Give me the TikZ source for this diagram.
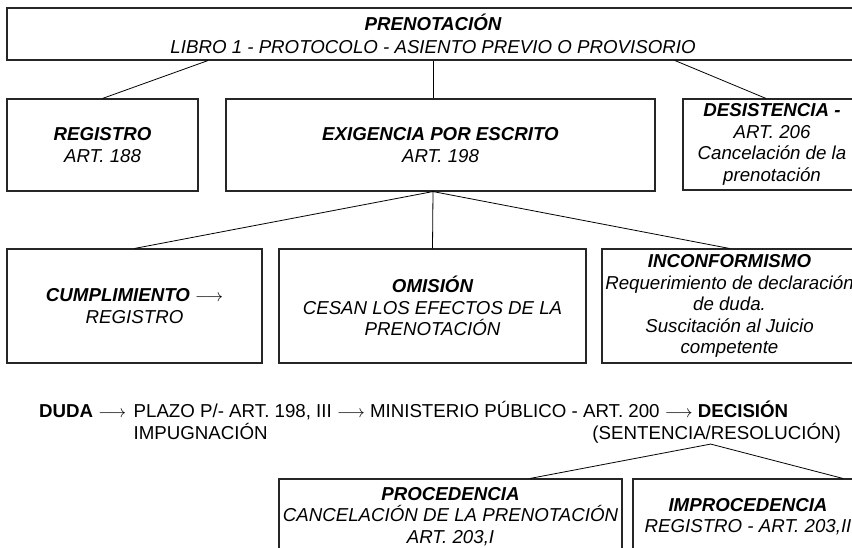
\documentclass[tikz,border=0pt]{standalone}
\usepackage{fontspec}
\setmainfont{Liberation Sans}
\usetikzlibrary{positioning}

\begin{document}
\begin{tikzpicture}[x=1pt,y=-1pt,
    caja/.style={draw=black!85,line width=1.1pt,align=center,inner sep=1pt,
      font=\fontsize{18.7}{21.5}\selectfont\itshape},
    linea/.style={line width=0.8pt},
    texto/.style={inner sep=1pt,font=\fontsize{18.7}{21.5}\selectfont}]

    % frame
    \useasboundingbox (0,0) rectangle (852,547);
    \clip (0,0) rectangle (852,547);

    % top box
    \node[caja,minimum width=852pt,minimum height=52pt] (prenot) at (433,34)
        {\textbf{PRENOTACIÓN}\\[2pt] LIBRO 1 - PROTOCOLO - ASIENTO PREVIO O PROVISORIO};

    % second row
    \node[caja,minimum width=191pt,minimum height=92pt] (registro) at (102.5,145)
        {\textbf{REGISTRO}\\ART. 188};
    \node[caja,minimum width=429pt,minimum height=92pt] (exig) at (440.5,145)
        {\textbf{EXIGENCIA POR ESCRITO}\\ART. 198};
    \node[caja,minimum width=178pt,minimum height=91pt] (desist) at (772,144.5)
        {\textbf{DESISTENCIA -}\\ART. 206\\Cancelación de la\\prenotación};

    \draw[linea] ([xshift=-225pt]prenot.south) -- (registro.north);
    \draw[linea] (prenot.south) -- (prenot.south |- exig.north);
    \draw[linea] ([xshift=242pt]prenot.south) -- ([xshift=-6pt]desist.north);

    % third row
    \node[caja,minimum width=255pt,minimum height=114pt] (cumpl) at (134.5,306)
        {\textbf{CUMPLIMIENTO} $\longrightarrow$\\REGISTRO};
    \node[caja,minimum width=307pt,minimum height=114pt] (omision) at (432.5,306)
        {\textbf{OMISIÓN}\\CESAN LOS EFECTOS DE LA\\PRENOTACIÓN};
    \node[caja,minimum width=255pt,minimum height=114pt] (inconf) at (729.5,306)
        {\textbf{INCONFORMISMO}\\Requerimiento de declaración\\de duda.\\Suscitación al Juicio\\competente};

    \coordinate (exigb) at (prenot.south |- exig.south);
    \foreach \n in {cumpl,omision,inconf}
        \draw[linea] (exigb) -- (\n.north);

    % duda line
    \node[texto,anchor=base west] (duda) at (38,417) {\textbf{DUDA} $\longrightarrow$};
    \node[texto,base right=5pt of duda] (plazo)
        {PLAZO P/- ART. 198, III $\longrightarrow$ MINISTERIO PÚBLICO - ART. 200 $\longrightarrow$ \textbf{DECISIÓN}};
    \node[texto,anchor=base west] (impug) at ([yshift=-22pt]plazo.base west) {IMPUGNACIÓN};
    \node[texto,anchor=base east] (sentencia) at (842,439) {(SENTENCIA/RESOLUCIÓN)};

    % last row
    \node[caja,minimum width=343pt,minimum height=75pt] (proced) at (450.5,516.5)
        {\textbf{PROCEDENCIA}\\CANCELACIÓN DE LA PRENOTACIÓN\\ART. 203,I};
    \node[caja,minimum width=230pt,minimum height=75pt] (improc) at (748,516.5)
        {\textbf{IMPROCEDENCIA}\\REGISTRO - ART. 203,II};

    \draw[linea] ([xshift=-6pt]sentencia.south) -- ([xshift=79.5pt]proced.north);
    \draw[linea] ([xshift=-6pt]sentencia.south) -- ([xshift=95pt]improc.north);
\end{tikzpicture}
\end{document}
